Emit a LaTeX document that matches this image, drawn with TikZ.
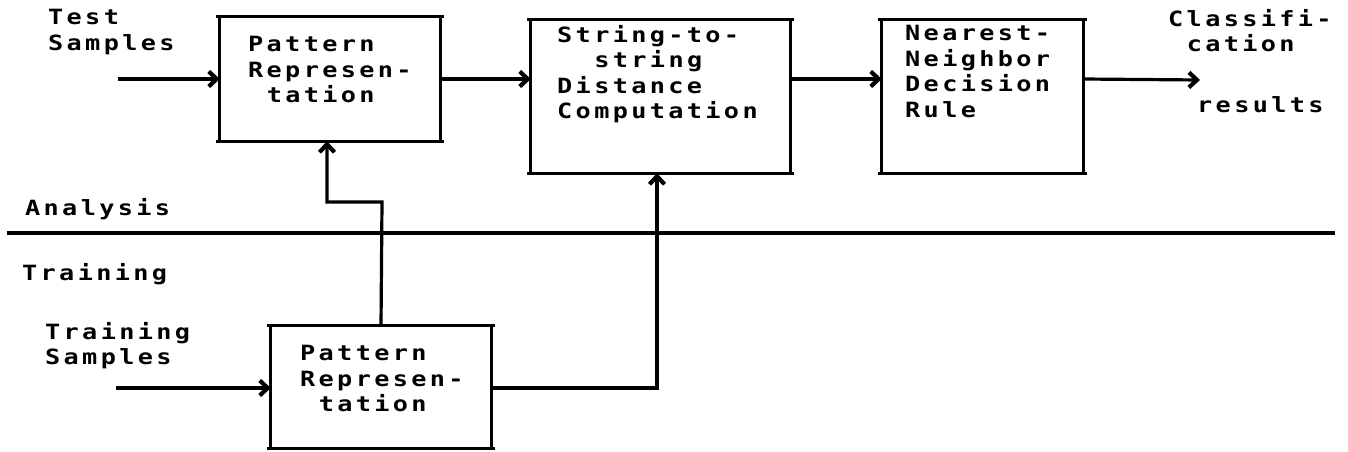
\documentclass[tikz,border=0pt]{standalone}
\usepackage{fontspec}
\newfontfamily\typer[FakeStretch=1.2,LetterSpace=16]{DejaVu Sans Mono Bold}
\usetikzlibrary{arrows.meta,calc}
\begin{document}
\begin{tikzpicture}[x=1pt,y=-1pt,
  ln/.style={line width=3.2pt},
  box/.style={draw=none,minimum width=#1,inner sep=0pt},
  txt/.style={font=\typer\fontsize{21}{25.5}\selectfont,align=left,inner sep=0pt,anchor=north west},
  arr/.style={ln,-{Straight Barb[length=8pt,width=15pt,line width=4.2pt]}}]
\useasboundingbox (0,0) rectangle (1348,452);
% boxes
\node[box=220pt,minimum height=124pt] (b1) at (330,79) {};
\node[box=259pt,minimum height=153pt] (b2) at (660.5,96.5) {};
\node[box=201pt,minimum height=153pt] (b3) at (982.5,96.5) {};
\node[box=220pt,minimum height=122pt] (b4) at (381,387) {};
\foreach \b in {b1,b2,b3,b4}{
  \draw[ln] ([xshift=-4pt]\b.north west) -- ([xshift=4pt]\b.north east);
  \draw[ln] ([xshift=-4pt]\b.south west) -- ([xshift=4pt]\b.south east);
  \draw[ln] (\b.north west) -- (\b.south west);
  \draw[ln] (\b.north east) -- (\b.south east);
}
% box texts
\node[txt] (t1) at (248,36) {Pattern\\Represen-\\\hspace*{18.6pt}tation};
\node[txt] (t2) at (557,25) {String-to-\\\hspace*{37.2pt}string\\Distance\\Computation};
\node[txt] (t3) at (905,25) {Nearest-\\Neighbor\\Decision\\Rule};
\node[txt] (t4) at (300,345) {Pattern\\Represen-\\\hspace*{18.6pt}tation};
% labels
\node[txt] (ts) at (48,9) {Test\\Samples};
\node[txt] (cl) at (1168,9) {Classifi-\\\hspace*{18.6pt}cation};
\node[txt] (rs) at (1197,96) {results};
\node[txt] (an) at (25,198) {Analysis};
\node[txt] (tr) at (22,263) {Training};
\node[txt] (trs) at (45,322) {Training\\Samples};
% coordinates
\coordinate (in1) at (118,79);
\coordinate (in4) at (116,388);
\coordinate (out) at (1200,80);
\coordinate (dl) at (7,233);
\coordinate (dr) at (1335,233);
\coordinate (j1) at (382,202);
\coordinate (j2) at (327,202);
\coordinate (j3) at (657,388);
% divider
\draw[ln] (dl) -- (dr);
% arrows
\draw[arr] (in1) -- (b1.west);
\draw[arr] (b1.east) -- (b2.west |- b1.east);
\draw[arr] (b2.east |- b1.east) -- (b3.west |- b1.east);
\draw[arr] (b3.east |- b1.east) -- (out);
\draw[arr] (in4) -- (b4.west |- in4);
\draw[arr] (b4.north) -- (j1) -- (j2) -- (j2 |- b1.south);
\draw[arr] (b4.east |- j3) -- (j3) -- (j3 |- b2.south);
\end{tikzpicture}
\end{document}
